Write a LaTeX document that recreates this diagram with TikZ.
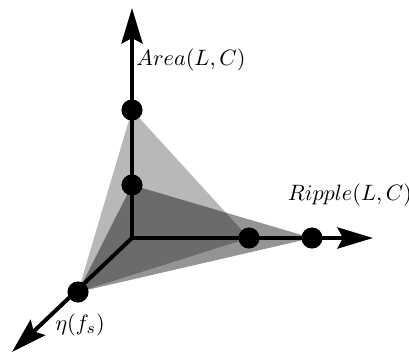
\documentclass[tikz,border=0pt]{standalone}
\usepackage{amsmath}
\usepackage{tikz}
\usetikzlibrary{arrows.meta, positioning}

\begin{document}
\begin{tikzpicture}[
        x=0.45pt, y=0.45pt,
        axis/.style={-{Stealth[length=16pt, width=9.5pt, inset=2.5pt]}, line width=1.8pt},
        dot/.style={circle, fill=black, inner sep=0pt, minimum size=9.5pt},
        faceA/.style={fill=black, fill opacity=0.28},
        faceB/.style={fill=black, fill opacity=0.42},
        lbl/.style={font=\normalsize}
    ]
        \useasboundingbox (0,0) rectangle (409,358);
        % Points
        \coordinate (origin) at (132,120);
        \coordinate (areaEnd) at (132,350);
        \coordinate (rippleEnd) at (373,120);
        \coordinate (etaEnd) at (12,6);
        \coordinate (pAreaHi) at (132,248);
        \coordinate (pAreaLo) at (132,173);
        \coordinate (pRippleLo) at (249,120);
        \coordinate (pRippleHi) at (312,120);
        \coordinate (pEta) at (78,66);

        % Faces
        \fill[faceA] (pAreaHi) -- (pRippleLo) -- (pEta) -- cycle;
        \fill[faceB] (pAreaLo) -- (pRippleHi) -- (pEta) -- cycle;

        % Axes
        \draw[axis] (origin) -- (areaEnd);
        \draw[axis] (origin) -- (rippleEnd);
        \draw[axis] (origin) -- (etaEnd);

        % Nodes
        \node (areaHi) [dot] at (pAreaHi) {};
        \node (areaLo) [dot] at (pAreaLo) {};
        \node (rippleLo) [dot] at (pRippleLo) {};
        \node (rippleHi) [dot] at (pRippleHi) {};
        \node (eta) [dot] at (pEta) {};

        % Labels
        \node (areaLabel) [lbl] at (191,298) {$Area(L,C)$};
        \node (rippleLabel) [lbl] at (350,163) {$Ripple(L,C)$};
        \node (etaLabel) [lbl] at (80,33) {$\eta(f_s)$};
    \end{tikzpicture}
\end{document}
